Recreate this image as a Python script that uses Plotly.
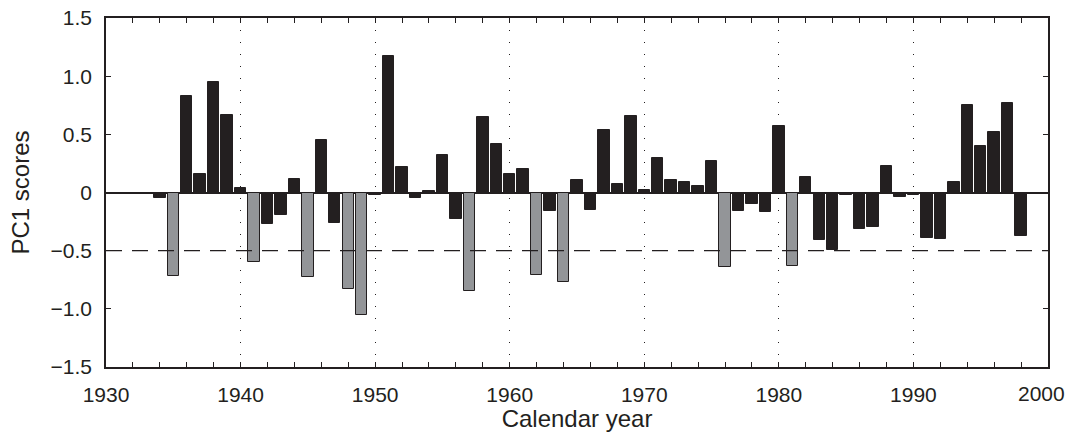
import plotly.graph_objects as go

years = list(range(1934, 1999))
pc1_scores = [
    -0.05, -0.72, 0.83, 0.16, 0.95, 0.67, 0.04, -0.60, -0.27, -0.19,
    0.12, -0.73, 0.45, -0.26, -0.83, -1.05, -0.02, 1.17, 0.22, -0.05,
    0.01, 0.32, -0.23, -0.85, 0.65, 0.42, 0.16, 0.20, -0.71, -0.16,
    -0.77, 0.11, -0.15, 0.54, 0.07, 0.66, 0.02, 0.30, 0.11, 0.09,
    0.06, 0.27, -0.64, -0.16, -0.10, -0.17, 0.57, -0.63, 0.13, -0.41,
    -0.49, -0.02, -0.31, -0.30, 0.23, -0.04, -0.02, -0.39, -0.40, 0.09,
    0.75, 0.40, 0.52, 0.77, -0.37,
]
threshold = -0.5
x_tick_vals = [1930, 1940, 1950, 1960, 1970, 1980, 1990, 2000]
x_tick_text = ["1930", "1940", "1950", "1960", "1970", "1980", "1990", ""]
last_year_label = "2000"
y_tick_vals = [1.5, 1.0, 0.5, 0, -0.5, -1.0, -1.5]
y_tick_text = ["1.5", "1.0", "0.5", "0", "\u22120.5", "\u22121.0", "\u22121.5"]

DARK = "#231f20"
GRAY = "#939598"
colors = [GRAY if v < threshold else DARK for v in pc1_scores]

fig = go.Figure()
fig.add_trace(go.Bar(
    x=years, y=pc1_scores, width=0.85,
    marker=dict(color=colors, line=dict(color=DARK, width=1)),
    showlegend=False,
))

# threshold dashed line
fig.add_shape(type="line", xref="paper", x0=0, x1=1, yref="y", y0=threshold, y1=threshold,
              line=dict(color=DARK, width=1.2, dash="16px,10px"), layer="above")

# last x tick label (shifted inward so it fits within the page)
fig.add_annotation(x=x_tick_vals[-1], xref="x", y=0, yref="paper", yanchor="top",
                   text=last_year_label, showarrow=False, xshift=-7, yshift=-13,
                   font=dict(size=21, color=DARK))

fig.update_layout(
    width=1067, height=432,
    margin=dict(l=106, r=19, t=18, b=65),
    paper_bgcolor="white", plot_bgcolor="white",
    font=dict(family="Liberation Sans, Arial, sans-serif", color=DARK, size=21),
    bargap=0,
)
fig.update_xaxes(
    range=[1930, 2000], tickvals=x_tick_vals, ticktext=x_tick_text,
    ticks="inside", ticklen=5, tickcolor=DARK, tickwidth=1.2,
    minor=dict(dtick=2, tick0=1930, ticks="inside", ticklen=5, tickcolor=DARK, tickwidth=1.2, showgrid=False),
    showline=True, linecolor=DARK, linewidth=1.5, mirror="ticks",
    showgrid=True, gridcolor=DARK, gridwidth=1, griddash="1px,11px",
    zeroline=False, ticklabelstandoff=8, automargin=False,
    title=dict(text="Calendar year", font=dict(size=24), standoff=6),
    tickfont=dict(size=21),
)
fig.update_yaxes(
    range=[-1.5, 1.5], tickvals=y_tick_vals, ticktext=y_tick_text,
    ticks="inside", ticklen=5, tickcolor=DARK, tickwidth=1.2,
    showline=True, linecolor=DARK, linewidth=1.5, mirror="ticks",
    showgrid=False, zeroline=True, zerolinecolor=DARK, zerolinewidth=1.5,
    ticklabelstandoff=8, automargin=False,
    title=dict(text="PC1 scores", font=dict(size=24), standoff=14),
    tickfont=dict(size=21),
)

fig.write_html("out.html")
